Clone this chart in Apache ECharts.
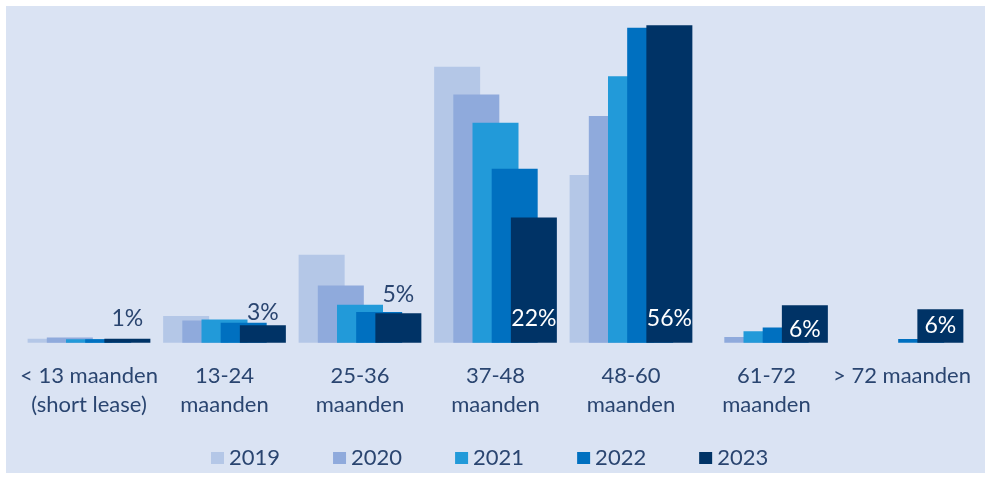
<!DOCTYPE html>
<html>
<head>
<meta charset="utf-8">
<script src="https://cdn.jsdelivr.net/npm/echarts@6/dist/echarts.min.js"></script>
<style>
  html, body { margin: 0; padding: 0; background: #ffffff; width: 1001px; height: 481px; overflow: hidden; }
  #chart { position: absolute; left: 6px; top: 6px; width: 979px; height: 467px; }
</style>
</head>
<body>
<div id="chart"></div>
<script>
const categories = [
  '< 13 maanden\n(short lease)',
  '13-24\nmaanden',
  '25-36\nmaanden',
  '37-48\nmaanden',
  '48-60\nmaanden',
  '61-72\nmaanden',
  '> 72 maanden'
];
const years = ['2019', '2020', '2021', '2022', '2023'];
const v2019 = [0.7, 4.7, 15.5, 48.7, 29.6, 0, 0];
const v2020 = [0.9, 3.9, 10.1, 43.8, 40.0, 1.0, 0];
const v2021 = [0.6, 4.1, 6.7, 38.8, 47.0, 2.0, 0];
const v2022 = [0.6, 3.5, 5.4, 30.7, 55.6, 2.7, 0.65];
const v2023 = [0.7, 3.1, 5.2, 22.1, 56.0, 6.6, 5.9];
const labels2023 = ['1%', '3%', '5%', '22%', '56%', '6%', '6%'];

const colors = ['#b4c7e7', '#8faadc', '#229ad9', '#0070c0', '#003366'];
const textColor = '#2a4570';
const fontFamily = 'Lato, "Open Sans", sans-serif';

const allValues = [v2019, v2020, v2021, v2022, v2023];
const topDistances = [9, 1, 7];

// label placement style per 2023 bar (styling only)
function labelFor(i, v) {
  const base = { show: true, formatter: labels2023[i], fontSize: 23, fontFamily: fontFamily };
  if (v >= 20) return Object.assign(base, { position: 'insideBottom', distance: 13, color: '#ffffff' });
  if (v >= 5.5) return Object.assign(base, { position: i === 6 ? 'inside' : 'insideBottom', distance: 2, color: '#ffffff' });
  return Object.assign(base, { position: 'top', distance: topDistances[i], color: textColor });
}

const series = years.map((y, k) => ({
  name: y,
  type: 'bar',
  barWidth: 46,
  barGap: '-58.3%',
  itemStyle: { color: colors[k] },
  data: allValues[k].map((v, i) => k === 4 ? { value: v, label: labelFor(i, v) } : v),
  z: 2 + k
}));

const chart = echarts.init(document.getElementById('chart'), null, { renderer: 'canvas' });
chart.setOption({
  backgroundColor: '#dae3f3',
  animation: false,
  color: colors,
  grid: { left: 15.25, right: 15.25, top: 13.7, bottom: 130.3, containLabel: false },
  legend: {
    data: years,
    left: 200,
    top: 436,
    itemWidth: 13,
    itemHeight: 12,
    itemGap: 53,
    icon: 'rect',
    textStyle: { color: textColor, fontSize: 22, fontFamily: fontFamily, padding: [0, 0, 0, 0] }
  },
  xAxis: {
    type: 'category',
    data: categories,
    axisLine: { show: false },
    axisTick: { show: false },
    axisLabel: {
      interval: 0,
      margin: 19,
      color: textColor,
      fontSize: 22,
      lineHeight: 28.5,
      fontFamily: fontFamily
    }
  },
  yAxis: {
    type: 'value',
    min: 0,
    max: 57,
    show: false,
    splitLine: { show: false }
  },
  series: series
});
</script>
</body>
</html>
